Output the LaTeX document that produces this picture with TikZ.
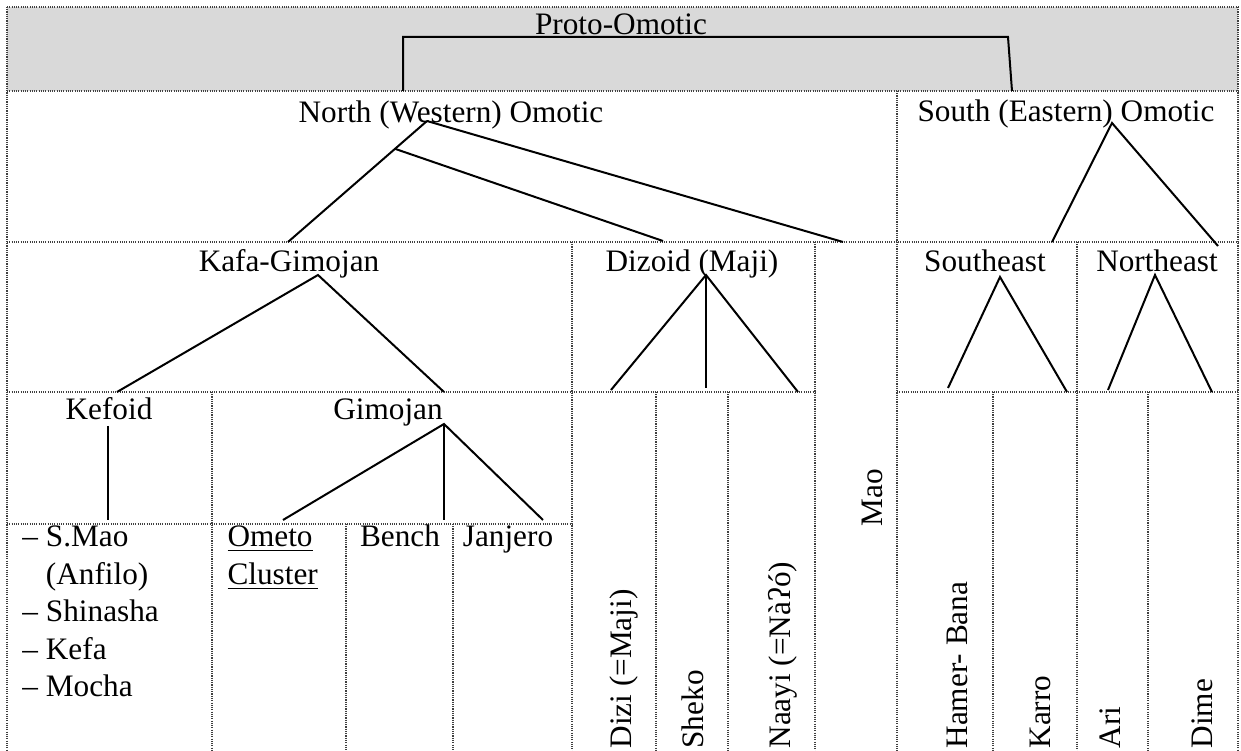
\documentclass[tikz,border=0pt]{standalone}
\usepackage{fontspec}
\setmainfont{Liberation Serif}
\usetikzlibrary{calc}

\begin{document}
\begin{tikzpicture}[x=0.4pt, y=-0.4pt, font=\fontsize{12.5}{15}\selectfont,
  grid/.style={black!75, line width=0.45pt, dash pattern=on 0.45pt off 0.45pt},
  branch/.style={black, line width=0.8pt},
  lbl/.style={inner sep=0pt, anchor=base},
  vlbl/.style={inner sep=0pt, anchor=base west, rotate=90}]
  \useasboundingbox (0,0) rectangle (1241,751);
  \fill[white] (0,0) rectangle (1241,751);
  % Top band
  \fill[black!15] (7,7) rectangle (1238,91);
  % Row lines
  \draw[grid] (7,7) -- (1238,7);
  \draw[grid] (7,91) -- (1238,91);
  \draw[grid] (7,242) -- (1238,242);
  \draw[grid] (7,392) -- (815,392);
  \draw[grid] (897,392) -- (1238,392);
  \draw[grid] (7,524) -- (572,524);
  % Column lines
  \foreach \x/\y in {7/7, 1238/7, 897/91, 572/242, 815/242, 1077/242,
                     212/392, 656/392, 728/392, 993/392, 1148/392, 346/524, 453/524}
    \draw[grid] (\x,\y) -- (\x,751);

  % Labels
  \node[lbl] (proto) at (621,35) {Proto-Omotic};
  \node[lbl] (nwo) at (451,123) {North (Western) Omotic};
  \node[lbl] (seo) at (1066,122) {South (Eastern) Omotic};
  \node[lbl] (kg) at (289,272) {Kafa-Gimojan};
  \node[lbl] (dz) at (692,272) {Dizoid (Maji)};
  \node[lbl] (se) at (985,272) {Southeast};
  \node[lbl] (ne) at (1157,272) {Northeast};
  \node[lbl] (kef) at (109,420) {Kefoid};
  \node[lbl] (gim) at (388,420) {Gimojan};
  \node[lbl, rotate=90] (mao) at (882,498) {Mao};
  % Kefoid languages
  \foreach \i/\t in {0/{– S.Mao}, 1/{\hphantom{– }(Anfilo)}, 2/{– Shinasha},
                     3/{– Kefa}, 4/{– Mocha}}
    \node[lbl, anchor=base west] (kef-\i) at (22,{547+37.5*\i}) {\t};
  % Gimojan languages
  \node[lbl, anchor=base west] (ometo) at (227,547) {\underline{Ometo}};
  \node[lbl, anchor=base west] (cluster) at (227,585) {\underline{Cluster}};
  \node[lbl] (bench) at (400,547) {Bench};
  \node[lbl] (janj) at (508,547) {Janjero};
  % Vertical names
  \node[vlbl] (dizi) at (631,749) {Dizi (=Maji)};
  \node[vlbl] (sheko) at (703,749) {Sheko};
  \node[vlbl] (naayi) at (790,749) {Naayi (=Nàʔó)};
  \node[vlbl] (hamer) at (967,749) {Hamer- Bana};
  \node[vlbl] (karro) at (1050,749) {Karro};
  \node[vlbl] (ari) at (1120,749) {Ari};
  \node[vlbl] (dime) at (1212,749) {Dime};

  % Fork and end points
  \coordinate (proto-l) at (403,37);
  \coordinate (proto-r) at (1008,37);
  \coordinate (nwo-in) at (403,91);
  \coordinate (seo-in) at (1012,91);
  \coordinate (nwo-fork) at (427,121);
  \coordinate (kg-in) at (288,242);
  \coordinate (dz-in) at (663,241);
  \coordinate (mao-in) at (843,242);
  \coordinate (seo-fork) at (1112,123);
  \coordinate (se-in) at (1052,242);
  \coordinate (ne-in) at (1218,246);
  \coordinate (kg-fork) at (318,275);
  \coordinate (kef-in) at (117,392);
  \coordinate (gim-in) at (444,392);
  \coordinate (dz-fork) at (706,275);
  \coordinate (se-fork) at (1000,277);
  \coordinate (ne-fork) at (1155,275);
  \coordinate (kef-fork) at (108,426);
  \coordinate (gim-fork) at (444,424);

  % Proto-Omotic bracket
  \draw[branch] (nwo-in) -- (proto-l) -- (proto-r) -- (seo-in);
  % North (Western) Omotic
  \draw[branch] (nwo-fork) -- (kg-in);
  \draw[branch] ($(nwo-fork)!0.23!(kg-in)$) -- (dz-in);
  \draw[branch] (nwo-fork) -- (mao-in);
  % South (Eastern) Omotic
  \draw[branch] (se-in) -- (seo-fork) -- (ne-in);
  % Kafa-Gimojan
  \draw[branch] (kef-in) -- (kg-fork) -- (gim-in);
  \draw[branch] (kef-fork) -- (108,520);
  \draw[branch] (283,520) -- (gim-fork) -- (543,520);
  \draw[branch] (gim-fork) -- (444,520);
  % Dizoid
  \draw[branch] (611,390) -- (dz-fork) -- (798,392);
  \draw[branch] (dz-fork) -- (706,388);
  % Southeast and Northeast
  \draw[branch] (948,388) -- (se-fork) -- (1067,392);
  \draw[branch] (1108,390) -- (ne-fork) -- (1212,392);
\end{tikzpicture}
\end{document}
